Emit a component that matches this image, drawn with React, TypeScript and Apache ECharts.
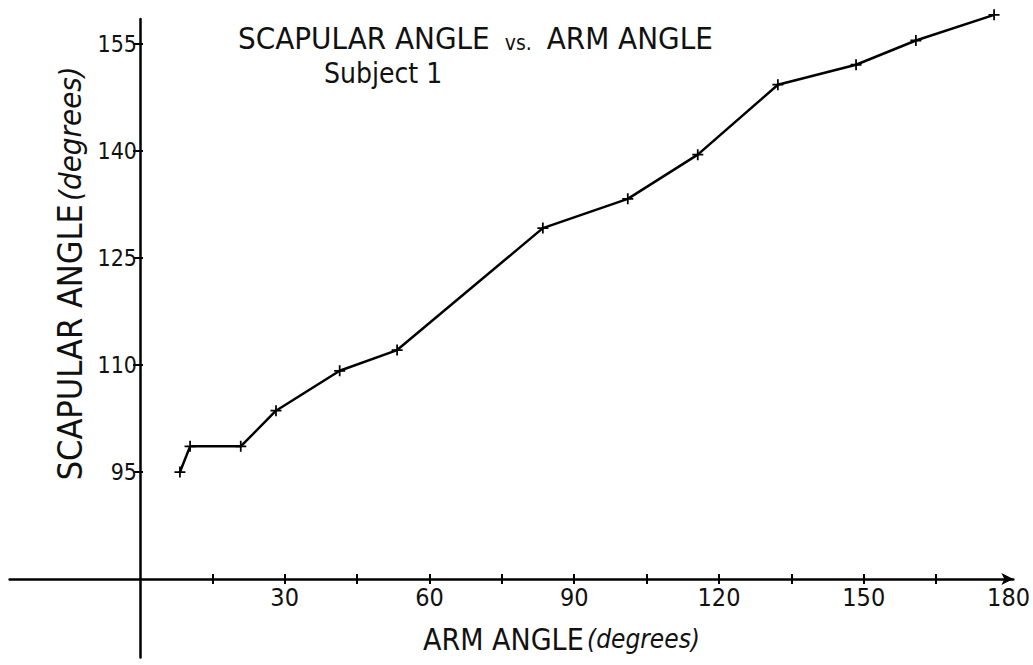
import React, { useEffect, useRef } from "react";
import * as echarts from "echarts";

const armAngle = [8.3, 10.4, 20.9, 28.2, 41.4, 53.3, 83.5, 101.1, 115.6, 132.2, 148.4, 160.8, 177.0];
const scapularAngle = [95.0, 98.6, 98.6, 103.6, 109.2, 112.1, 129.2, 133.3, 139.5, 149.3, 152.1, 155.5, 159.1];
const xTickValues = [15, 30, 45, 60, 75, 90, 105, 120, 135, 150, 165];
const xLabelValues = [30, 60, 90, 120, 150, 180];
const yTickValues = [95, 110, 125, 140, 155];

const FONT = '"Liberation Sans Narrow", "DejaVu Sans Condensed", "Open Sans", sans-serif';
const PLUS = "path://M4.2,0H5.8V4.2H10V5.8H5.8V10H4.2V5.8H0V4.2H4.2Z";

export default function App() {
  const ref = useRef<HTMLDivElement>(null);
  useEffect(() => {
    if (!ref.current) return;
    const chart = echarts.init(ref.current, undefined, { renderer: "svg" });
    const xMin = -27, xMax = 181, yMin = 69, yMax = 158.5;
    chart.setOption({
      animation: false,
      backgroundColor: "#ffffff",
      title: [
        {
          text: "{a|SCAPULAR ANGLE}{s| }{b|vs.}{s| }{a|ARM ANGLE}",
          left: 233,
          top: 17,
          textStyle: {
            rich: {
              a: { fontFamily: FONT, fontSize: 31, color: "#111", fontWeight: "normal" },
              b: { fontFamily: FONT, fontSize: 21, color: "#111", fontWeight: "normal", padding: [10, 0, 0, 0] },
              s: { fontFamily: FONT, fontSize: 31, width: 15 },
            },
          },
        },
        {
          text: "Subject 1",
          left: 319,
          top: 54,
          textStyle: { fontFamily: FONT, fontSize: 28, color: "#111", fontWeight: "normal" },
        },
      ],
      grid: { left: 9.6, right: 18.8, top: 19.1, bottom: 7.5, containLabel: false },
      xAxis: [
        {
          type: "value",
          min: xMin,
          max: xMax,
          position: "bottom",
          offset: -78.5,
          splitLine: { show: false },
          axisLine: {
            onZero: false,
            symbol: ["none", "arrow"],
            symbolSize: [9, 12],
            lineStyle: { color: "#000", width: 2.5 },
          },
          axisTick: { show: true, length: 5, customValues: xTickValues, lineStyle: { color: "#000", width: 2 } },
          axisLabel: {
            customValues: xLabelValues,
            fontFamily: FONT,
            fontSize: 25,
            color: "#111",
            margin: 6,
          },
          name: "{a|ARM ANGLE} {b|(degrees)}",
          nameLocation: "middle",
          nameGap: 45,
          nameTextStyle: {
            padding: [0, 0, 0, 100],
            rich: {
              a: { fontFamily: FONT, fontSize: 30, color: "#111" },
              b: { fontFamily: FONT, fontSize: 26, color: "#111", fontStyle: "italic" },
            },
          },
        },
        {
          type: "value",
          min: xMin,
          max: xMax,
          position: "bottom",
          offset: -78.5,
          splitLine: { show: false },
          axisLine: { show: false, onZero: false },
          axisTick: { show: true, inside: true, length: 5, customValues: xTickValues, lineStyle: { color: "#000", width: 2 } },
          axisLabel: { show: false },
        },
      ],
      yAxis: [
        {
          type: "value",
          min: yMin,
          max: yMax,
          position: "left",
          offset: -130.4,
          splitLine: { show: false },
          axisLine: { onZero: false, lineStyle: { color: "#000", width: 2.5 } },
          axisTick: { show: true, length: 7, customValues: yTickValues, lineStyle: { color: "#000", width: 2 } },
          axisLabel: {
            customValues: yTickValues,
            fontFamily: FONT,
            fontSize: 23,
            color: "#111",
            margin: 3,
          },
          name: "{a|SCAPULAR ANGLE} {b|(degrees)}",
          nameLocation: "middle",
          nameGap: 50,
          nameTextStyle: {
            padding: [0, 0, 0, 130],
            rich: {
              a: { fontFamily: FONT, fontSize: 34, color: "#111" },
              b: { fontFamily: FONT, fontSize: 31, color: "#111", fontStyle: "italic" },
            },
          },
        },
        {
          type: "value",
          min: yMin,
          max: yMax,
          position: "left",
          offset: -130.4,
          splitLine: { show: false },
          axisLine: { show: false, onZero: false },
          axisTick: { show: true, inside: true, length: 3, customValues: yTickValues, lineStyle: { color: "#000", width: 2 } },
          axisLabel: { show: false },
        },
      ],
      series: [
        {
          type: "line",
          xAxisIndex: 0,
          yAxisIndex: 0,
          clip: false,
          data: armAngle.map((x, i) => [x, scapularAngle[i]]),
          symbol: PLUS,
          symbolSize: 11,
          showSymbol: true,
          lineStyle: { color: "#000", width: 2.5 },
          itemStyle: { color: "#000" },
        },
      ],
    });
    return () => chart.dispose();
  }, []);
  return (
    <div
      ref={ref}
      style={{ position: "fixed", left: 0, top: 0, width: 1033, height: 665, background: "#fff" }}
    />
  );
}
